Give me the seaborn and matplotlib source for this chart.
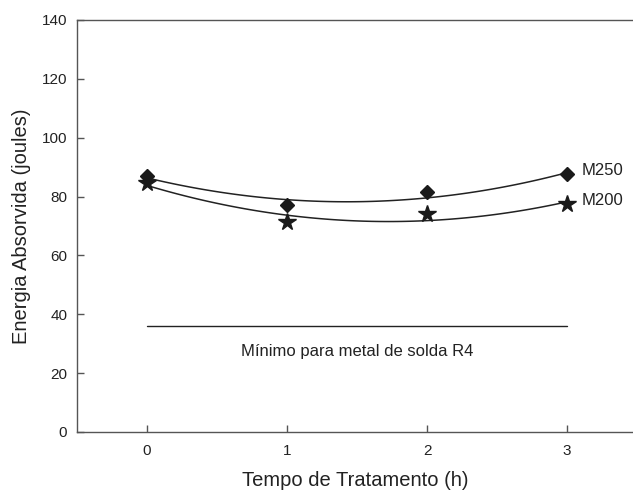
import numpy as np
import pandas as pd
import seaborn as sns
import matplotlib
matplotlib.use("Agg")
import matplotlib.pyplot as plt

tempo = [0, 1, 2, 3]
m250 = [87.0, 77.0, 81.5, 87.5]
m200 = [84.5, 71.5, 74.0, 77.5]
minimo = 36
series_names = ["M250", "M200"]

sns.set_style("ticks")
plt.rcParams['font.family'] = ['Liberation Sans', 'DejaVu Sans']

df = pd.DataFrame({"tempo": tempo * 2,
                   "energia": m250 + m200,
                   "serie": ["M250"] * 4 + ["M200"] * 4})

fig = plt.figure(figsize=(6.33, 4.97), dpi=100)
ax = fig.add_axes([0.1216, 0.1308, 0.8784, 0.829])

markers = {"M250": "D", "M200": "*"}
msizes = {"M250": 7.5, "M200": 13}
for name in series_names:
    sub = df[df.serie == name]
    sns.regplot(data=sub, x="tempo", y="energia", order=2, ci=None, ax=ax,
                scatter=False, line_kws=dict(color="#222222", lw=1.1))
    ax.plot(sub.tempo, sub.energia, linestyle="none", marker=markers[name],
            markersize=msizes[name], color="#1a1a1a")
    ax.text(3.1, sub.energia.iloc[-1] + 1.2, name, fontsize=12, va="center",
            ha="left", color="#222222")

ax.plot([0, 3], [minimo, minimo], color="#222222", lw=1)
ax.text(1.5, 27.5, "Mínimo para metal de solda R4", ha="center", va="center",
        fontsize=12, color="#222222")

ax.set_xlim(-0.5, 3.47)
ax.set_ylim(0, 140)
ax.set_xticks(tempo)
ax.set_yticks(range(0, 141, 20))
ax.tick_params(direction="in", length=5, width=1, color="#555555",
               labelsize=11, labelcolor="#222222")
ax.tick_params(axis="y", pad=7)
ax.tick_params(axis="x", pad=9)
for s in ["left", "bottom", "top"]:
    ax.spines[s].set_color("#555555")
    ax.spines[s].set_linewidth(1)
ax.spines["right"].set_visible(False)
ax.set_xlabel("Tempo de Tratamento (h)", fontsize=14.5, labelpad=9, color="#222222")
ax.set_ylabel("Energia Absorvida (joules)", fontsize=14.5, labelpad=8, color="#222222")

fig.savefig("out.png", dpi=100)
